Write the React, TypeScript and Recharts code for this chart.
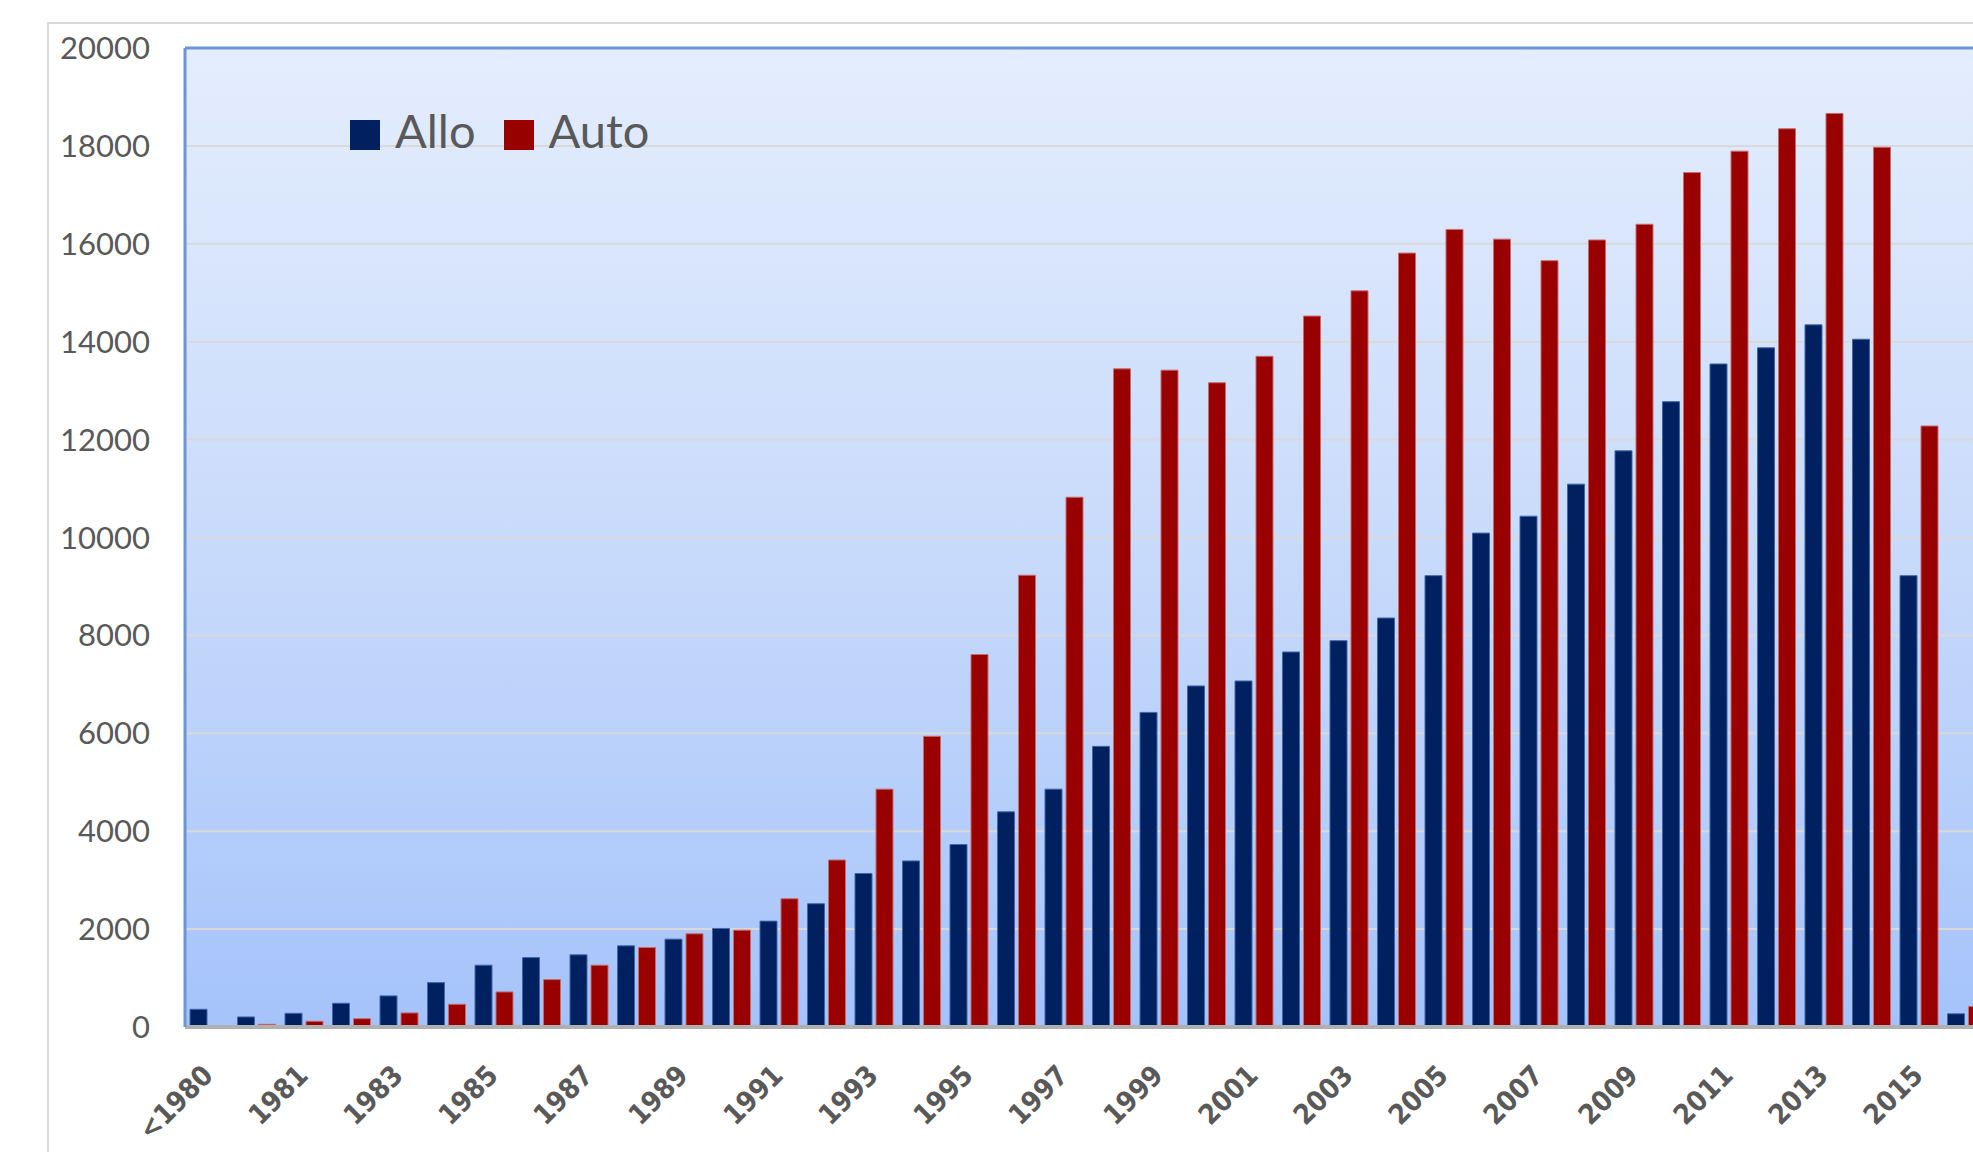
import React from 'react';
import {
  BarChart,
  Bar,
  XAxis,
  YAxis,
  CartesianGrid,
  ReferenceLine,
  Legend,
} from 'recharts';

// transplant years, "<1980" is everything before 1980
const years: string[] = [
  '<1980', '1980', '1981', '1982', '1983', '1984', '1985', '1986', '1987', '1988',
  '1989', '1990', '1991', '1992', '1993', '1994', '1995', '1996', '1997', '1998',
  '1999', '2000', '2001', '2002', '2003', '2004', '2005', '2006', '2007', '2008',
  '2009', '2010', '2011', '2012', '2013', '2014', '2015', '2016',
];

const alloValues: number[] = [
  362, 205, 280, 485, 635, 907, 1263, 1419, 1474, 1658,
  1795, 2013, 2163, 2518, 3136, 3393, 3728, 4396, 4859, 5733,
  6427, 6967, 7069, 7661, 7892, 8355, 9220, 10090, 10435, 11090,
  11770, 12775, 13545, 13875, 14344, 14050, 9220, 270,
];

const autoValues: number[] = [
  27, 55, 117, 170, 287, 464, 716, 969, 1263, 1624,
  1904, 1979, 2620, 3412, 4859, 5938, 7609, 9229, 10823, 13445,
  13419, 13162, 13702, 14524, 15039, 15810, 16293, 16095, 15655, 16078,
  16399, 17455, 17892, 18350, 18663, 17972, 12278, 420,
];

const yTicks: number[] = [0, 2000, 4000, 6000, 8000, 10000, 12000, 14000, 16000, 18000, 20000];

const data = years.map((year, i) => ({
  year,
  allo: alloValues[i],
  auto: autoValues[i],
}));

const ALLO = '#002060';
const AUTO = '#990000';
const TEXT = '#595959';

const XTick = (props: any) => {
  const { x, y, payload } = props;
  const tx = x + 6;
  const ty = y + 50;
  return (
    <text
      x={tx}
      y={ty}
      transform={`rotate(-45 ${tx} ${ty})`}
      textAnchor='end'
      fill={TEXT}
      fontSize={28}
      fontWeight='bold'
      style={{ fontStretch: 'condensed' }}
      fontFamily='"DejaVu Sans Condensed", "DejaVu Sans", Verdana, sans-serif'
    >
      {payload.value}
    </text>
  );
};

const renderLegend = (props: any) => {
  const { payload } = props;
  return (
    <div style={{ display: 'flex', alignItems: 'flex-start' }}>
      {payload.map((entry: any, index: number) => (
        <div
          key={index}
          style={{ display: 'flex', alignItems: 'flex-start', marginRight: 28 }}
        >
          <div
            style={{
              width: 30,
              height: 30,
              marginTop: 13,
              marginRight: 15,
              backgroundColor: entry.color,
            }}
          />
          <span
            style={{
              fontFamily: 'Lato, sans-serif',
              fontSize: 47,
              lineHeight: '47px',
              color: TEXT,
            }}
          >
            {entry.value}
          </span>
        </div>
      ))}
    </div>
  );
};

export default function App() {
  return (
    <div
      style={{
        position: 'fixed',
        left: 0,
        top: 0,
        width: 1973,
        height: 1152,
        overflow: 'hidden',
        background: '#fff',
      }}
    >
      {/* outer chart frame, runs off the right and bottom edges */}
      <div
        style={{
          position: 'absolute',
          left: 47,
          top: 22,
          width: 2100,
          height: 1300,
          borderLeft: '2px solid #D9D9D9',
          borderTop: '2px solid #D9D9D9',
        }}
      />
      <div style={{ position: 'absolute', left: 0, top: 0 }}>
        <BarChart
          width={2050}
          height={1152}
          data={data}
          margin={{ top: 48, right: 60, bottom: 0, left: 0 }}
          barGap={4}
        >
          <defs>
            <linearGradient id='plotBg' x1='0' y1='0' x2='0' y2='1'>
              <stop offset='0%' stopColor='#E4EDFD' />
              <stop offset='50%' stopColor='#C9DBFB' />
              <stop offset='100%' stopColor='#A5C3FA' />
            </linearGradient>
          </defs>
          <CartesianGrid
            vertical={false}
            stroke='#D9D9D9'
            strokeWidth={2}
            fill='url(#plotBg)'
            fillOpacity={1}
          />
          <XAxis
            dataKey='year'
            height={125}
            interval={1}
            tickSize={0}
            tickMargin={0}
            tick={<XTick />}
            axisLine={{ stroke: '#B0B0B0', strokeWidth: 4 }}
          />
          <YAxis
            width={185}
            domain={[0, 20000]}
            ticks={yTicks}
            tickSize={0}
            tickMargin={35}
            tick={{ fill: TEXT, fontSize: 31, fontFamily: 'Lato, sans-serif' }}
            axisLine={{ stroke: '#6A95D6', strokeWidth: 3 }}
          />
          <ReferenceLine y={20000} stroke='#6A95D6' strokeWidth={3} />
          <Legend
            layout='horizontal'
            align='center'
            verticalAlign='middle'
            content={renderLegend}
            wrapperStyle={{ left: 350, top: 107, width: 'auto' }}
          />
          <Bar
            dataKey='allo'
            name='Allo'
            fill={ALLO}
            stroke='#4167A8'
            strokeWidth={1}
            barSize={17}
            isAnimationActive={false}
          />
          <Bar
            dataKey='auto'
            name='Auto'
            fill={AUTO}
            stroke='#C76A6A'
            strokeWidth={1}
            barSize={17}
            isAnimationActive={false}
          />
        </BarChart>
      </div>
    </div>
  );
}
